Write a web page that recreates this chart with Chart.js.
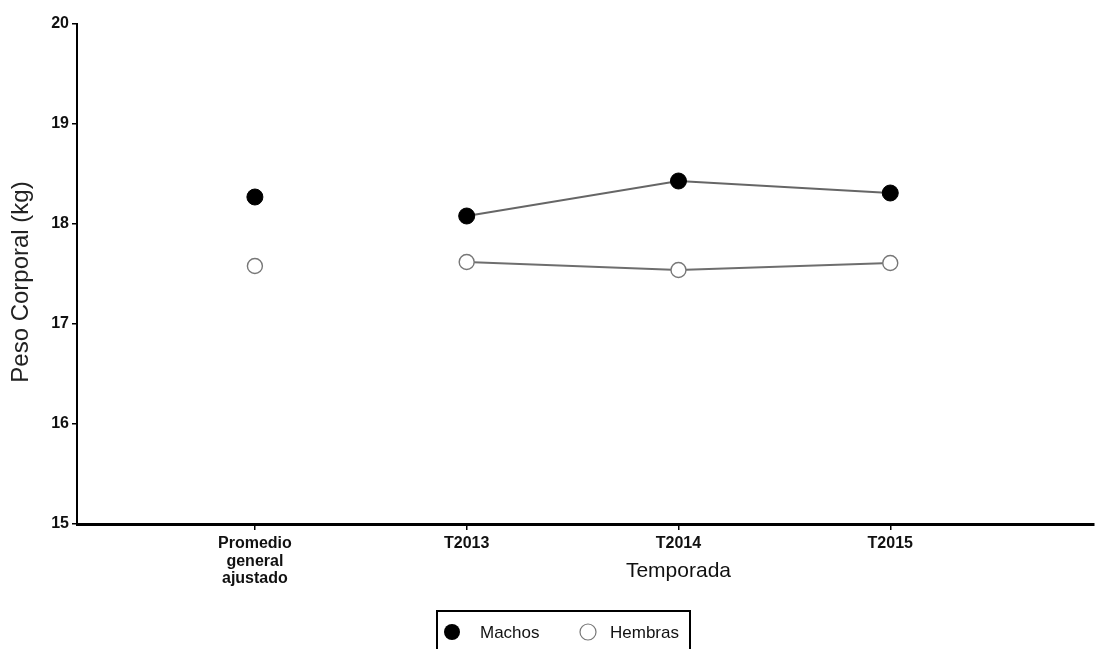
<!DOCTYPE html>
<html>
<head>
<meta charset="utf-8">
<script src="https://cdn.jsdelivr.net/npm/chart.js@4.4.1/dist/chart.umd.min.js"></script>
<style>
  html, body { margin: 0; padding: 0; background: #fff; overflow: hidden; }
  #wrap { width: 1103px; height: 649px; }
</style>
</head>
<body>
<div id="wrap"><canvas id="myChart"></canvas></div>
<script>
var categories = [['Promedio', 'general', 'ajustado'], 'T2013', 'T2014', 'T2015'];
var machos = [18.27, 18.08, 18.43, 18.31];
var hembras = [17.58, 17.62, 17.54, 17.61];
var yTicks = [15, 16, 17, 18, 19, 20];

var FONT = '"Liberation Sans", Arial, sans-serif';

// promedio point (index 0) is not joined to the seasons
function toPoints(arr) {
  return arr.map(function(v, i) { return { x: i, y: v }; });
}
function hideFirst(color) {
  return function(ctx) { return ctx.p0DataIndex === 0 ? 'rgba(0,0,0,0)' : color; };
}

var legendBox = {
  id: 'legendBox',
  afterDraw: function(chart) {
    var c = chart.ctx;
    c.save();
    c.lineWidth = 2;
    c.strokeStyle = '#000';
    c.strokeRect(437, 611, 253, 44);
    // Machos
    c.beginPath();
    c.arc(452, 632, 8, 0, Math.PI * 2);
    c.fillStyle = '#000';
    c.fill();
    // Hembras
    c.beginPath();
    c.arc(588, 632, 8, 0, Math.PI * 2);
    c.fillStyle = '#fff';
    c.fill();
    c.lineWidth = 1.2;
    c.strokeStyle = '#777';
    c.stroke();
    c.fillStyle = '#111';
    c.font = '17px ' + FONT;
    c.textBaseline = 'middle';
    c.fillText(chart.data.datasets[0].label, 480, 633);
    c.fillText(chart.data.datasets[1].label, 610, 633);
    // x title centred under T2014
    var xs = chart.scales.x;
    c.font = '21px ' + FONT;
    c.textAlign = 'center';
    c.fillText('Temporada', xs.getPixelForValue(2), 571);
    // y title
    c.translate(21, 282);
    c.rotate(-Math.PI / 2);
    c.fillStyle = '#222';
    c.font = '24px ' + FONT;
    c.fillText('Peso Corporal (kg)', 0, 0);
    c.restore();
  }
};

var ctx = document.getElementById('myChart').getContext('2d');
var chart = new Chart(ctx, {
  type: 'line',
  data: {
    datasets: [{
      label: 'Machos',
      data: toPoints(machos),
      borderColor: '#666',
      borderWidth: 1.8,
      segment: { borderColor: hideFirst('#666') },
      pointRadius: 8,
      pointBackgroundColor: '#000',
      pointBorderColor: '#000',
      pointBorderWidth: 1
    }, {
      label: 'Hembras',
      data: toPoints(hembras),
      borderColor: '#6e6e6e',
      borderWidth: 1.8,
      segment: { borderColor: hideFirst('#6e6e6e') },
      pointRadius: 7.5,
      pointBackgroundColor: '#fff',
      pointBorderColor: '#777',
      pointBorderWidth: 1.4
    }]
  },
  options: {
    responsive: true,
    maintainAspectRatio: false,
    animation: false,
    layout: { padding: { left: 0, right: 0, top: 24, bottom: 0 } },
    plugins: {
      legend: { display: false },
      tooltip: { enabled: false }
    },
    scales: {
      x: {
        type: 'linear',
        min: -0.84,
        max: 3.962,
        afterBuildTicks: function(scale) {
          scale.ticks = categories.map(function(c, i) { return { value: i }; });
        },
        afterFit: function(scale) { scale.height = 125; },
        border: { display: true, color: '#000', width: 3 },
        grid: { drawOnChartArea: false, drawTicks: true, tickLength: 6, color: '#000', lineWidth: 1.5 },
        ticks: {
          autoSkip: false,
          maxRotation: 0,
          padding: 5,
          color: '#111',
          font: { family: FONT, size: 16, weight: 'bold', lineHeight: 1.1 },
          callback: function(v) { return categories[v]; }
        }
      },
      y: {
        min: 15,
        max: 20,
        afterBuildTicks: function(scale) {
          scale.ticks = yTicks.map(function(v) { return { value: v }; });
        },
        afterFit: function(scale) { scale.width = 77; },
        border: { display: true, color: '#000', width: 2 },
        grid: { drawOnChartArea: false, drawTicks: true, tickLength: 5, color: '#000', lineWidth: 1.5 },
        ticks: {
          padding: 3,
          color: '#111',
          font: { family: FONT, size: 16, weight: 'bold' }
        }
      }
    }
  },
  plugins: [legendBox]
});
</script>
</body>
</html>
